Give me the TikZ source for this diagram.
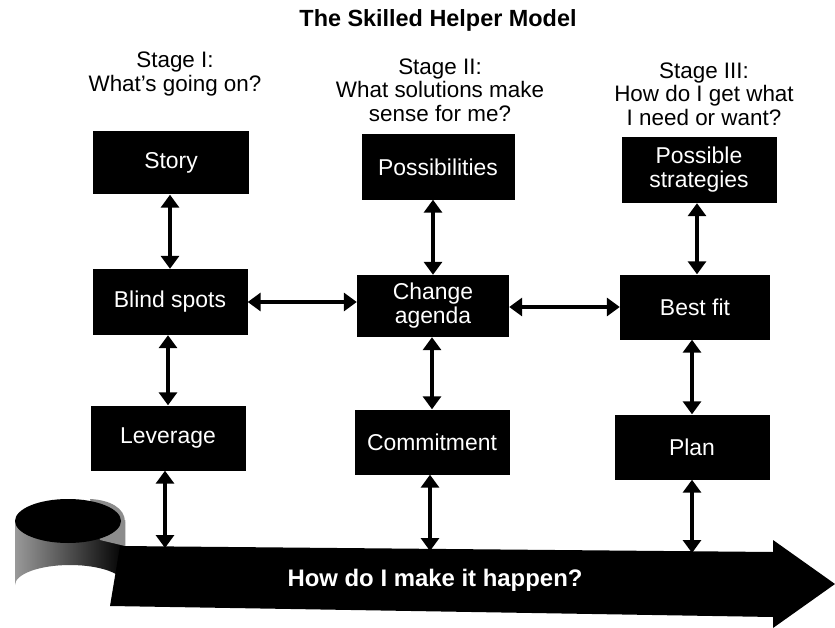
\documentclass[tikz,border=0pt]{standalone}
\usepackage{fontspec}
\setmainfont{Liberation Sans}
\usetikzlibrary{arrows.meta}
\begin{document}
\begin{tikzpicture}[x=1bp,y=-1bp,
  titlestyle/.style={font=\fontsize{23.5}{26}\selectfont\bfseries, inner sep=0},
  stagestyle/.style={font=\fontsize{22.5}{23.5}\selectfont, align=center, inner sep=0},
  boxstyle/.style={fill=black, text=white, align=center, inner sep=0,
    font=\fontsize{23}{24}\selectfont, minimum width=155bp, minimum height=65bp},
  dbl/.style={{Triangle[width=18bp,length=13bp]}-{Triangle[width=18bp,length=13bp]}, line width=3.2bp},
  bandtext/.style={text=white, font=\fontsize{24}{26}\selectfont\bfseries, inner sep=0}]
\useasboundingbox (0,0) rectangle (835,628);
\fill[white] (0,0) rectangle (835,628);

% headings
\node[titlestyle] (title) at (438,20) {The Skilled Helper Model};
\node[stagestyle] (s1) at (175,74) {Stage I:\\What's going on?};
\node[stagestyle] (s2) at (440,90) {Stage II:\\What solutions make\\sense for me?};
\node[stagestyle] (s3) at (704,94) {Stage III:\\How do I get what\\I need or want?};

% boxes
\node[boxstyle, minimum width=156bp, minimum height=63bp] (story) at (171,163) {Story};
\node[boxstyle, minimum height=66bp] (blind) at (170,302) {Blind spots};
\node[boxstyle] (lev) at (168,438) {Leverage};
\node[boxstyle, minimum width=153bp] (poss) at (438,167) {Possibilities};
\node[boxstyle, minimum width=152bp, minimum height=62bp] (change) at (433,306) {Change\\agenda};
\node[boxstyle] (commit) at (432,442) {Commitment};
\node[boxstyle, minimum height=66bp] (strat) at (699,170) {Possible\\strategies};
\node[boxstyle, minimum width=150bp] (best) at (695,307) {Best fit};
\node[boxstyle] (plan) at (692,447) {Plan};

% curl at the left end of the band
\shade[left color=black!40, right color=black]
  (15,520) -- (15,585) arc[start angle=180, end angle=360, x radius=55, y radius=20]
  -- (125,520) -- cycle;
\fill[black!45] (90,499) .. controls (110,500) and (125,508) .. (125,522) -- (125,546)
  -- (100,540) -- cycle;
\fill[black] (68,521) ellipse[x radius=53, y radius=22];

% band with arrow head
\fill[black] (120,546) -- (773,552) -- (773,540) -- (835,584) -- (773,628)
  -- (773,617) -- (110,606) -- cycle;
\node[bandtext] (band) at (435,580) {How do I make it happen?};

% band anchor points
\coordinate (b1) at (165,548);
\coordinate (b2) at (430,551);
\coordinate (b3) at (692,553);

% vertical arrows
\draw[dbl] (story.south -| 170,0) -- (170,0 |- blind.north);
\draw[dbl] (blind.south -| 168,0) -- (168,0 |- lev.north);
\draw[dbl] (lev.south -| b1) -- (b1);
\draw[dbl] (poss.south -| 433,0) -- (433,0 |- change.north);
\draw[dbl] (change.south -| 432,0) -- (432,0 |- commit.north);
\draw[dbl] (commit.south -| b2) -- (b2);
\draw[dbl] (strat.south -| 697,0) -- (697,0 |- best.north);
\draw[dbl] (best.south -| 692,0) -- (692,0 |- plan.north);
\draw[dbl] (plan.south -| b3) -- (b3);

% horizontal arrows
\draw[dbl] (blind.east |- 0,302) -- (change.west |- 0,302);
\draw[dbl] (change.east |- 0,307) -- (best.west |- 0,307);
\end{tikzpicture}
\end{document}
